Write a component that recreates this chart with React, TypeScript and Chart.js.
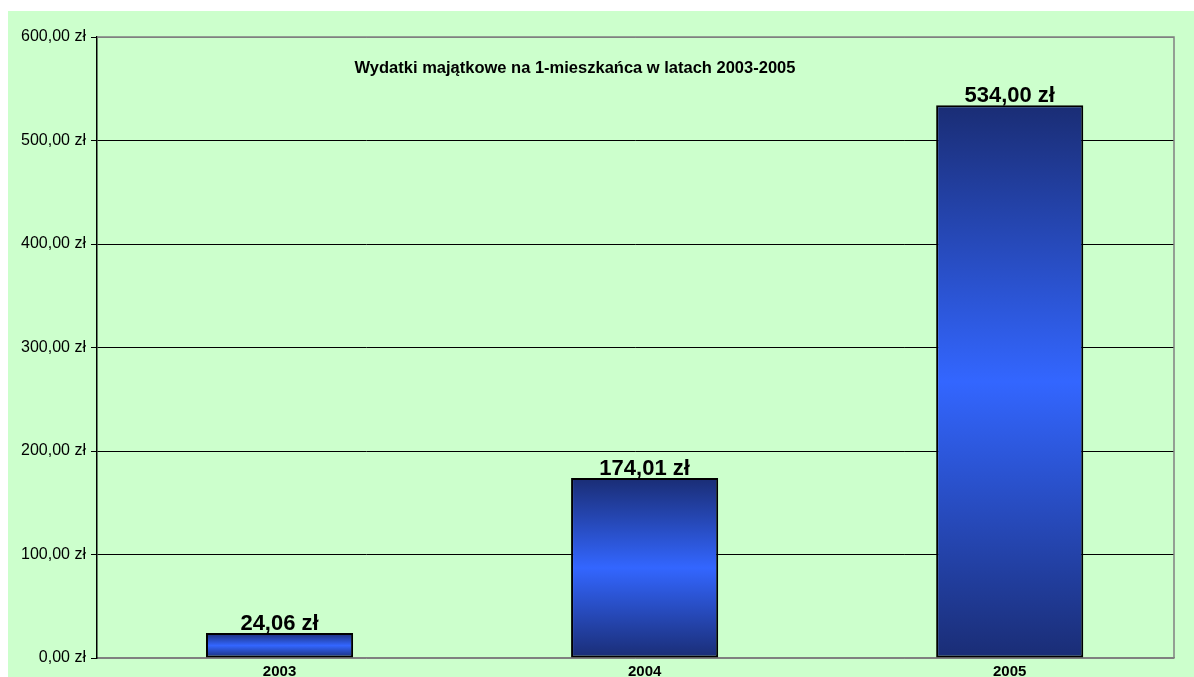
import React, { useEffect, useRef } from "react";
import { Chart, registerables } from "chart.js";

Chart.register(...registerables);

const categories = ["2003", "2004", "2005"];
const values = [24.06, 174.01, 534.0];
const yTicks = [0, 100, 200, 300, 400, 500, 600];
const title = "Wydatki majątkowe na 1-mieszkańca w latach 2003-2005";

const FONT = "Arial, 'Liberation Sans', sans-serif";
const fmt = (v: number) => v.toFixed(2).replace(".", ",") + " zł";

export default function App() {
  const ref = useRef<HTMLCanvasElement | null>(null);

  useEffect(() => {
    if (!ref.current) return;

    const overlay = {
      id: "overlay",
      afterDraw(chart: any) {
        const { ctx, chartArea } = chart;
        ctx.save();
        ctx.strokeStyle = "#808080";
        ctx.lineWidth = 1.5;
        ctx.beginPath();
        ctx.moveTo(chartArea.left, chartArea.top);
        ctx.lineTo(chartArea.right, chartArea.top);
        ctx.lineTo(chartArea.right, chartArea.bottom);
        ctx.stroke();
        ctx.fillStyle = "#000";
        ctx.font = `bold 16.5px ${FONT}`;
        ctx.textAlign = "center";
        ctx.textBaseline = "middle";
        ctx.fillText(title, chartArea.left + 478, chartArea.top + 31);
        const meta = chart.getDatasetMeta(0);
        ctx.font = `bold 22px ${FONT}`;
        ctx.textBaseline = "alphabetic";
        meta.data.forEach((el: any, i: number) => {
          ctx.fillText(fmt(values[i]), el.x, el.y - 3);
        });
        ctx.restore();
      },
    };

    const chart = new Chart(ref.current, {
      type: "bar",
      data: {
        datasets: [
          {
            data: values.map((v, i) => ({ x: i, y: v })),
            borderColor: "#000",
            borderWidth: 2,
            borderSkipped: false,
            barPercentage: 0.403,
            categoryPercentage: 1,
            backgroundColor: (c: any) => {
              const chart = c.chart;
              const ys = chart.scales?.y;
              if (!chart.chartArea || !ys || c.dataIndex === undefined) return "#3366ff";
              const top = ys.getPixelForValue(values[c.dataIndex]);
              const bottom = ys.getPixelForValue(0);
              if (!isFinite(top) || !isFinite(bottom) || top === bottom) return "#3366ff";
              const g = chart.ctx.createLinearGradient(0, top, 0, bottom);
              g.addColorStop(0, "#1a2d75");
              g.addColorStop(0.5, "#3366ff");
              g.addColorStop(1, "#1a2d75");
              return g;
            },
          },
        ],
      },
      options: {
        animation: false,
        responsive: false,
        maintainAspectRatio: false,
        layout: { padding: { top: 26, right: 20, left: 0, bottom: 0 } },
        plugins: {
          legend: { display: false },
          title: { display: false },
          tooltip: { enabled: false },
        },
        scales: {
          x: {
            type: "linear",
            offset: false,
            min: -0.5,
            max: 2.45,
            afterBuildTicks: (s: any) => {
              s.ticks = categories.map((_, i) => ({ value: i }));
            },
            grid: { display: false, drawTicks: false, offset: false },
            border: { display: true, color: "#808080", width: 1.5 },
            ticks: {
              color: "#000",
              font: { family: FONT, size: 15, weight: "bold" },
              padding: 5,
              maxRotation: 0,
              autoSkip: false,
              callback: (v: any) => categories[Number(v)] ?? "",
            },
            afterFit: (s: any) => {
              s.height = 19;
            },
          },
          y: {
            min: 0,
            max: 600,
            afterBuildTicks: (s: any) => {
              s.ticks = yTicks.map((v) => ({ value: v }));
            },
            grid: {
              color: (c: any) =>
                c.tick && (c.tick.value === 0 || c.tick.value === 600) ? "#808080" : "#000",
              lineWidth: 1,
              tickColor: "#000",
              tickLength: 6,
              drawTicks: true,
            },
            border: { display: true, color: "#000", width: 1.5 },
            ticks: {
              color: "#000",
              font: { family: FONT, size: 16 },
              padding: 5,
              callback: (v: any) => fmt(Number(v)),
            },
            afterFit: (s: any) => {
              s.width = 89;
            },
          },
        },
      },
      plugins: [overlay],
    } as any);

    return () => chart.destroy();
  }, []);

  return (
    <div
      style={{
        position: "absolute",
        left: 8,
        top: 11,
        width: 1186,
        height: 666,
        background: "#ccffcc",
      }}
    >
      <canvas ref={ref} width={1186} height={666} style={{ display: "block" }} />
    </div>
  );
}
